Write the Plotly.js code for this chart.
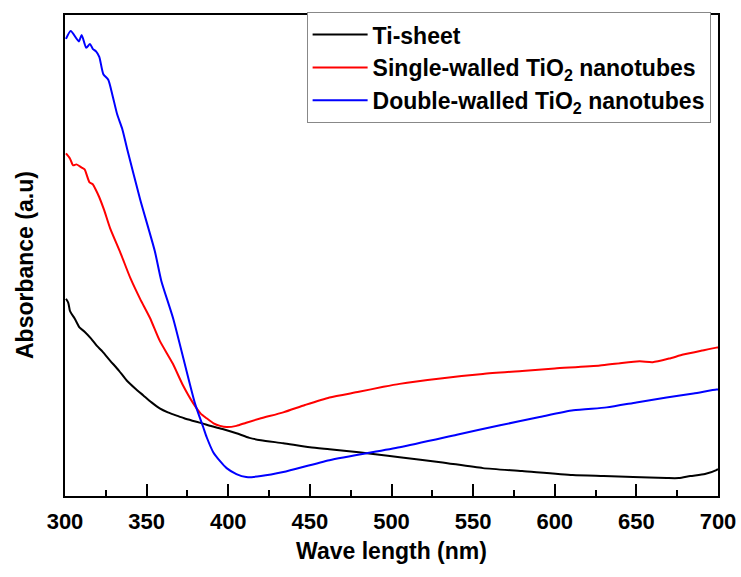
<!DOCTYPE html>
<html>
<head>
<meta charset="utf-8">
<script src="https://cdn.plot.ly/plotly-3.0.1.min.js"></script>
<style>html,body{margin:0;padding:0;background:#fff;}#chart{width:741px;height:577px;}</style>
</head>
<body>
<div id="chart"></div>
<script>
// Wavelength (nm) and absorbance (a.u.)
const tiSheetWl = [300.6,302,303,304,306,309,312,316,319.4,323,327.6,333,337.8,343,348,353,358,363,368,373,378,383,390,397,405,413,420,433.7,450,462,480,490,505,530,556,580,611,630,648,668.6,676,683,692,699,700];
const tiSheetAbs = [0.99,0.97,0.93,0.915,0.89,0.845,0.825,0.79,0.755,0.725,0.68,0.63,0.58,0.54,0.505,0.47,0.44,0.42,0.405,0.39,0.378,0.367,0.35,0.335,0.315,0.292,0.28,0.265,0.245,0.235,0.22,0.21,0.195,0.17,0.14,0.125,0.105,0.10,0.095,0.09,0.09,0.10,0.11,0.13,0.135];

const singleWl = [300.6,303,305,307,310,312,315,317,319,321,324,327.6,334,340,346,352,358,366,372,378.6,383,386.8,391,395,399,405,411,420,433.7,447,462,480,495,505,530,556,580,600,627.7,640,652,660,670,678.7,690,699,700];
const singleAbs = [1.72,1.695,1.66,1.665,1.65,1.64,1.575,1.565,1.535,1.50,1.435,1.345,1.22,1.095,0.99,0.895,0.78,0.665,0.56,0.465,0.415,0.39,0.365,0.352,0.346,0.352,0.368,0.39,0.42,0.457,0.495,0.523,0.548,0.563,0.59,0.613,0.628,0.64,0.655,0.667,0.676,0.672,0.69,0.71,0.73,0.745,0.745];

const doubleWl = [300.6,303.5,308.5,310.2,313,315.3,317,319,321,323.5,326.5,329,332,335,338,346,355,359,366.3,379.6,384.7,386.8,390.8,395,399,405,411,420,433.7,462,505,540,566.5,590,611.4,631.8,650,668.5,685,699,700];
const doubleAbs = [2.295,2.335,2.2825,2.315,2.25,2.27,2.245,2.2325,2.205,2.1175,2.09,2.015,1.915,1.845,1.745,1.49,1.23,1.08,0.89,0.465,0.345,0.295,0.22,0.175,0.14,0.11,0.095,0.10,0.12,0.18,0.245,0.3075,0.355,0.395,0.43,0.445,0.47,0.495,0.515,0.535,0.535];

const seriesNames = ['Ti-sheet','Single-walled TiO<sub>2</sub> nanotubes','Double-walled TiO<sub>2</sub> nanotubes'];
const xTickVals = [300,350,400,450,500,550,600,650,700];

const FONT = 'Arial, "Liberation Sans", sans-serif';
const traces = [
  {x: tiSheetWl, y: tiSheetAbs, name: seriesNames[0], line:{color:'#000000', width:2, shape:'spline', smoothing:0.6}},
  {x: singleWl, y: singleAbs, name: seriesNames[1], line:{color:'#ff0000', width:2, shape:'spline', smoothing:0.6}},
  {x: doubleWl, y: doubleAbs, name: seriesNames[2], line:{color:'#0000ff', width:2, shape:'spline', smoothing:0.6}}
].map(t => Object.assign({type:'scatter', mode:'lines'}, t));

const layout = {
  width: 741, height: 577,
  margin: {l:65, r:23, t:13, b:81},
  paper_bgcolor:'#ffffff', plot_bgcolor:'#ffffff',
  font: {family: FONT, color:'#000', size:23},
  showlegend: true,
  legend: {
    x: 0.37, y: 1.006, xanchor:'left', yanchor:'top',
    bordercolor:'#888888', borderwidth:1, bgcolor:'#ffffff',
    font:{family: FONT, size:23, color:'#000', weight:'bold'},
    itemwidth: 55, tracegroupgap: 0
  },
  xaxis: {
    range:[300,700], tickvals: xTickVals, ticktext: xTickVals.map(String),
    ticks:'inside', ticklen:12, tickwidth:2, tickcolor:'#000',
    minor:{ticks:'inside', ticklen:6, tickwidth:2, dtick:25, tickcolor:'#000', showgrid:false},
    showline:true, linewidth:2, linecolor:'#000', mirror:true,
    showgrid:false, zeroline:false, ticklabelstandoff:5,
    tickfont:{family: FONT, size:22, weight:'bold'},
    title:{text:'Wave length (nm)', font:{family: FONT, size:23, weight:'bold'}, standoff:9}
  },
  yaxis: {
    range:[0,2.415], showticklabels:false, ticks:'',
    showline:true, linewidth:2, linecolor:'#000', mirror:true,
    showgrid:false, zeroline:false,
    title:{text:'Absorbance (a.u)<span style="color:rgba(0,0,0,0)">...</span>', font:{family: FONT, size:23, weight:'bold'}, standoff:23}
  }
};
Plotly.newPlot('chart', traces, layout, {displayModeBar:false, staticPlot:true});
</script>
</body>
</html>
